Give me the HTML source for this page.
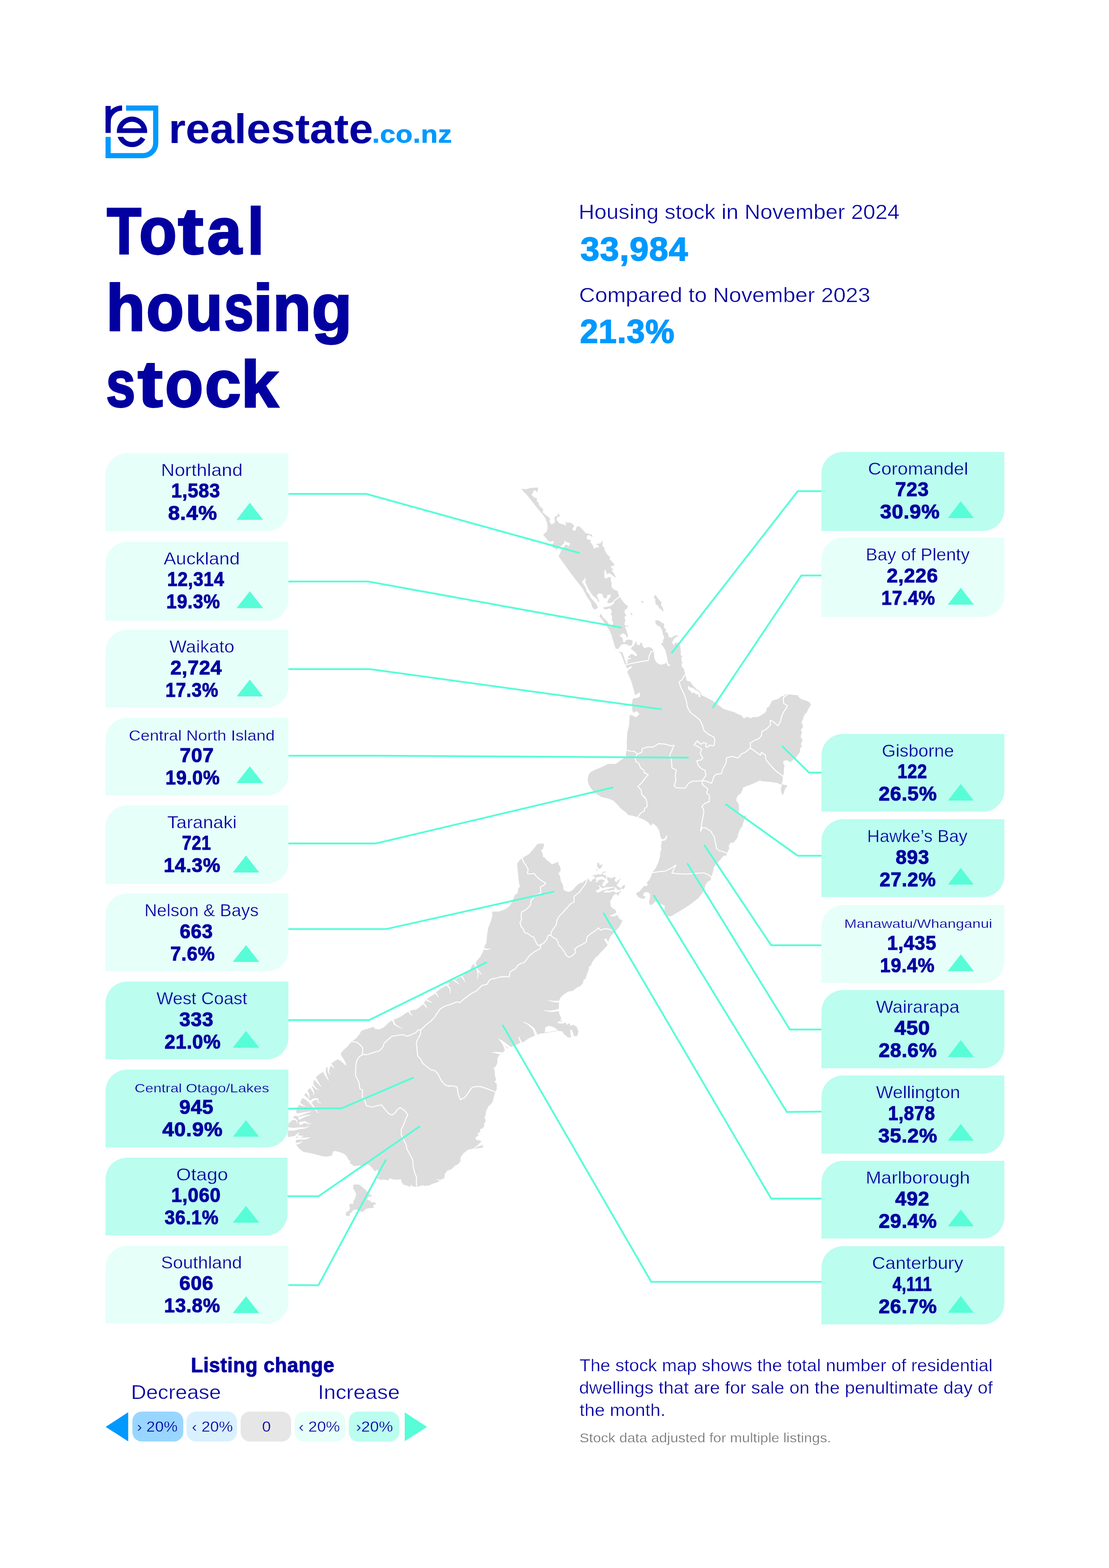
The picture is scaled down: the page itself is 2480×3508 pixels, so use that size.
<!DOCTYPE html>
<html lang="en"><head><meta charset="utf-8"><title>Total housing stock - realestate.co.nz</title>
<style>
html,body{margin:0;padding:0;background:#fff}
#page{position:relative;width:2480px;height:3508px;overflow:hidden;background:#fff;font-family:"Liberation Sans",sans-serif;color:#0300a0}
#page svg{position:absolute;left:0;top:0;overflow:visible}
#leaders circle{fill:#57fdd7;stroke:none}
h1,h2,h3,p,dl,dt,dd,small{margin:0;padding:0;font-size:inherit;font-weight:inherit}
.t{position:absolute;display:block;white-space:nowrap;line-height:1;transform-origin:0 0;margin:0}
.card{position:absolute;border-radius:48px 0 48px 0;background:#e6fff9}
.card.dk{background:#bbfdef}
.up{position:absolute;background:#57fdd7;clip-path:polygon(50% 0,100% 100%,0 100%)}
.pill{position:absolute;top:3158.2px;height:66.5px;border-radius:21px}
.arr{position:absolute;top:3159.5px;width:50.4px;height:65.3px}
.arr.l{left:236.3px;background:#0099ff;clip-path:polygon(100% 0,0 50%,100% 100%)}
.arr.r{left:904.6px;background:#57fdd7;clip-path:polygon(0 0,100% 50%,0 100%)}
</style></head>
<body><div id="page">
<svg id="map" width="2480" height="3508" viewBox="0 0 2480 3508" role="img" aria-label="Map of New Zealand">
<path id="nz" d="M1437.0,1344.1 L1434.0,1344.8 L1434.5,1348.0 L1437.0,1349.2 L1439.4,1347.3 Z M1466.6,1352.2 L1471.5,1354.7 L1473.9,1360.8 L1478.9,1363.3 L1481.3,1368.2 L1483.8,1367.0 L1482.6,1360.8 L1478.1,1353.4 L1479.6,1347.3 L1475.2,1343.6 L1470.3,1337.4 L1466.6,1331.2 L1463.4,1332.5 L1462.4,1338.6 L1465.8,1339.9 L1465.3,1346.0 Z M1409.9,1370.2 L1411.1,1375.6 L1414.1,1376.8 L1413.1,1371.9 Z M1213.9,1151.3 L1219.4,1159.2 L1223.8,1171.0 L1224.5,1180.9 L1222.6,1189.5 L1214.4,1196.2 L1221.3,1204.3 L1226.3,1210.5 L1234.9,1222.8 L1235.5,1223.7 L1245.5,1230.2 L1249.7,1224.0 L1255.8,1220.8 L1261.3,1215.4 L1263.2,1209.2 L1266.9,1212.9 L1275.1,1215.9 L1271.9,1222.3 L1268.2,1219.1 L1264.5,1218.4 L1260.8,1224.0 L1257.8,1227.7 L1253.9,1233.9 L1252.1,1238.8 L1249.0,1244.4 L1249.7,1245.5 L1278.0,1284.4 L1290.3,1300.4 L1302.7,1316.5 L1312.5,1334.9 L1321.1,1347.3 L1323.6,1355.9 L1326.1,1361.3 L1331.0,1363.8 L1337.2,1360.1 L1334.7,1353.4 L1327.3,1344.1 L1321.1,1337.4 L1317.0,1328.8 L1312.5,1323.9 L1310.1,1315.2 L1305.1,1307.8 L1301.4,1302.2 L1303.2,1298.0 L1307.6,1296.7 L1307.1,1293.0 L1304.6,1291.3 L1308.8,1293.0 L1310.1,1298.0 L1308.3,1301.7 L1312.5,1310.3 L1315.5,1317.7 L1319.9,1323.9 L1324.3,1331.2 L1334.7,1339.9 L1337.2,1345.5 L1340.9,1347.3 L1337.2,1338.6 L1334.7,1331.7 L1338.4,1327.5 L1345.8,1328.3 L1348.3,1331.7 L1349.5,1337.4 L1356.4,1338.6 L1358.1,1331.2 L1365.5,1330.0 L1365.5,1334.9 L1360.6,1341.1 L1357.4,1348.5 L1363.0,1349.7 L1372.2,1346.0 L1373.4,1349.7 L1364.8,1355.9 L1354.4,1357.9 L1349.5,1358.4 L1349.5,1362.3 L1356.9,1363.3 L1363.0,1360.8 L1367.2,1364.5 L1368.0,1369.4 L1366.2,1374.4 L1369.2,1379.3 L1368.0,1387.9 L1370.4,1390.4 L1371.7,1393.4 L1368.0,1401.5 L1365.5,1403.2 L1358.9,1391.6 L1355.2,1387.2 L1349.0,1382.3 L1343.6,1372.4 L1340.4,1378.6 L1349.0,1389.7 L1356.4,1400.7 L1363.8,1411.8 L1367.5,1421.7 L1365.9,1413.9 L1369.6,1428.7 L1374.2,1443.5 L1377.0,1451.8 L1381.0,1451.3 L1382.0,1452.9 L1386.2,1447.2 L1389.0,1442.6 L1395.5,1440.7 L1402.8,1441.7 L1407.5,1445.4 L1412.1,1443.5 L1414.3,1446.3 L1410.6,1450.9 L1415.8,1455.5 L1421.3,1460.1 L1425.0,1465.7 L1421.3,1468.5 L1415.8,1463.8 L1411.2,1462.9 L1407.5,1467.5 L1403.8,1469.4 L1404.7,1472.2 L1411.2,1471.6 L1408.8,1474.9 L1403.8,1475.3 L1403.2,1482.3 L1401.4,1486.0 L1399.1,1481.4 L1395.5,1469.4 L1391.8,1460.1 L1388.4,1458.3 L1384.4,1458.3 L1383.0,1456.7 L1383.1,1457.9 L1388.1,1461.6 L1393.0,1473.9 L1397.9,1487.5 L1402.8,1496.1 L1409.0,1491.2 L1413.4,1490.0 L1411.5,1494.9 L1405.3,1498.6 L1402.8,1503.5 L1411.5,1523.2 L1416.4,1540.5 L1420.1,1555.3 L1426.3,1551.6 L1430.7,1549.1 L1431.7,1557.7 L1425.0,1561.4 L1415.2,1562.7 L1413.2,1572.5 L1413.9,1589.8 L1416.4,1594.7 L1423.8,1591.0 L1430.0,1597.2 L1422.6,1604.6 L1418.9,1603.3 L1412.7,1599.6 L1407.8,1600.9 L1407.0,1621.8 L1402.8,1639.1 L1401.6,1658.8 L1402.1,1671.1 L1401.1,1678.5 L1399.1,1689.6 L1400.0,1693.0 L1386.9,1701.6 L1377.1,1709.0 L1359.8,1709.0 L1345.0,1716.4 L1330.3,1722.6 L1320.4,1727.5 L1315.5,1734.9 L1314.2,1746.0 L1316.7,1755.8 L1322.9,1765.7 L1332.7,1775.6 L1345.0,1782.9 L1359.8,1786.6 L1372.2,1791.6 L1380.8,1800.2 L1389.4,1810.1 L1400.0,1817.4 L1404.1,1823.1 L1413.9,1824.9 L1426.3,1828.1 L1438.6,1833.0 L1448.4,1839.1 L1456.3,1847.8 L1459.5,1842.1 L1464.5,1845.3 L1469.4,1850.2 L1474.3,1858.9 L1476.8,1871.2 L1479.2,1877.4 L1484.2,1877.4 L1487.9,1873.7 L1490.8,1868.2 L1492.3,1871.2 L1490.3,1877.4 L1485.4,1881.0 L1480.0,1881.0 L1478.0,1893.4 L1479.2,1902.0 L1477.3,1903.2 L1475.6,1918.0 L1471.9,1930.3 L1465.7,1942.7 L1458.3,1952.5 L1457.1,1957.4 L1452.1,1968.5 L1446.0,1974.7 L1448.4,1978.4 L1446.0,1983.3 L1441.0,1980.9 L1437.4,1985.8 L1430.0,1994.4 L1423.8,1996.9 L1422.6,2000.6 L1427.5,2006.7 L1434.9,2010.4 L1441.0,2010.4 L1443.5,2005.5 L1438.6,2004.3 L1438.1,2000.6 L1442.3,1995.7 L1449.7,1996.4 L1453.9,2000.6 L1453.4,2009.2 L1451.4,2016.6 L1452.1,2022.8 L1455.8,2025.2 L1460.8,2021.5 L1465.7,2016.6 L1473.1,2020.3 L1479.2,2022.8 L1486.6,2026.5 L1485.4,2037.5 L1487.9,2041.2 L1494.0,2049.9 L1500.2,2049.9 L1505.1,2047.4 L1515.0,2041.2 L1527.3,2033.9 L1537.2,2027.7 L1549.5,2019.1 L1561.8,2009.2 L1570.4,1998.1 L1575.4,1989.5 L1577.8,1979.6 L1582.8,1972.2 L1588.9,1969.8 L1590.2,1962.4 L1593.9,1952.5 L1596.3,1940.2 L1601.2,1934.0 L1611.1,1922.9 L1618.5,1914.3 L1624.7,1914.3 L1625.9,1908.2 L1630.8,1898.3 L1629.6,1892.1 L1634.5,1884.7 L1638.2,1886.0 L1641.9,1883.5 L1649.3,1873.7 L1651.0,1865.0 L1655.5,1853.9 L1660.4,1847.8 L1661.6,1841.6 L1665.3,1831.8 L1670.3,1824.4 L1657.9,1825.6 L1651.0,1819.4 L1653.0,1812.0 L1651.8,1798.5 L1646.8,1792.1 L1647.2,1784.7 L1650.9,1779.1 L1656.5,1775.4 L1660.1,1768.0 L1662.0,1761.6 L1674.9,1756.9 L1687.9,1751.4 L1699.9,1745.8 L1702.7,1747.7 L1724.8,1749.5 L1737.8,1751.4 L1743.3,1754.2 L1748.9,1755.1 L1747.9,1757.9 L1746.1,1764.3 L1747.0,1771.7 L1749.8,1778.7 L1752.6,1775.4 L1755.3,1765.2 L1760.3,1759.7 L1760.0,1756.9 L1747.9,1754.2 L1749.8,1747.7 L1750.7,1736.6 L1752.6,1731.1 L1752.9,1721.8 L1754.4,1712.6 L1751.6,1707.9 L1751.6,1703.3 L1756.3,1701.1 L1761.8,1701.5 L1766.4,1705.5 L1772.9,1700.6 L1780.3,1694.1 L1788.6,1683.0 L1789.5,1673.8 L1793.6,1670.1 L1791.8,1668.2 L1791.4,1662.7 L1794.7,1656.7 L1790.5,1647.9 L1793.2,1638.6 L1791.0,1632.2 L1795.5,1627.5 L1795.1,1622.0 L1792.3,1615.5 L1796.0,1609.1 L1796.9,1603.5 L1800.6,1597.0 L1804.3,1594.3 L1806.2,1588.7 L1809.9,1582.3 L1813.6,1576.7 L1810.8,1572.1 L1806.2,1568.8 L1798.8,1566.5 L1789.5,1562.8 L1784.9,1558.2 L1784.9,1555.5 L1772.9,1554.5 L1761.8,1553.2 L1756.3,1552.7 L1755.3,1555.5 L1750.7,1557.3 L1745.2,1559.1 L1742.4,1562.8 L1735.9,1564.7 L1726.7,1567.5 L1723.0,1573.9 L1720.2,1580.4 L1714.7,1584.1 L1713.8,1590.6 L1710.1,1595.2 L1702.7,1599.8 L1695.3,1603.9 L1682.3,1604.4 L1678.6,1608.1 L1676.8,1605.4 L1667.5,1603.5 L1666.6,1607.2 L1662.0,1606.3 L1658.3,1600.7 L1650.9,1598.0 L1641.7,1593.3 L1628.7,1589.6 L1617.6,1586.0 L1604.7,1575.8 L1595.5,1569.3 L1586.2,1563.8 L1569.2,1555.3 L1564.6,1547.0 L1556.3,1540.6 L1549.8,1534.1 L1543.3,1524.8 L1535.9,1523.0 L1534.1,1515.6 L1532.2,1508.2 L1529.5,1497.1 L1524.8,1491.6 L1523.9,1484.5 L1527.1,1482.3 L1524.8,1480.5 L1523.4,1473.1 L1525.8,1467.5 L1522.1,1465.7 L1522.6,1458.3 L1521.5,1447.2 L1518.4,1438.9 L1510.1,1438.0 L1507.3,1443.5 L1502.7,1438.0 L1506.4,1430.6 L1511.0,1425.4 L1517.4,1423.5 L1514.7,1421.3 L1508.2,1422.3 L1500.8,1426.9 L1495.3,1425.0 L1493.4,1415.8 L1487.9,1413.9 L1489.7,1408.4 L1484.5,1403.2 L1485.5,1395.8 L1480.5,1393.6 L1473.1,1388.1 L1465.7,1387.7 L1465.7,1393.6 L1469.4,1399.1 L1476.8,1402.8 L1480.5,1410.2 L1482.3,1418.6 L1485.7,1426.5 L1482.3,1433.3 L1482.7,1438.0 L1477.7,1439.8 L1482.3,1445.4 L1487.9,1454.6 L1491.6,1469.4 L1494.3,1484.2 L1499.0,1487.9 L1497.1,1490.6 L1493.4,1489.7 L1490.6,1482.7 L1487.9,1484.2 L1480.5,1487.0 L1473.1,1486.0 L1466.6,1480.5 L1462.9,1471.2 L1462.4,1456.5 L1458.3,1450.9 L1452.8,1447.6 L1447.2,1448.3 L1440.9,1450.0 L1437.2,1445.4 L1436.1,1438.9 L1431.7,1438.0 L1430.6,1443.5 L1424.3,1442.6 L1423.5,1434.3 L1420.4,1438.3 L1416.2,1447.2 L1413.0,1443.5 L1414.9,1436.5 L1413.9,1432.4 L1405.1,1430.6 L1399.5,1432.4 L1397.7,1437.6 L1393.6,1436.1 L1392.1,1427.2 L1386.6,1423.5 L1387.1,1419.9 L1393.6,1416.7 L1399.1,1419.9 L1401.9,1426.9 L1404.7,1423.2 L1403.7,1420.0 L1401.2,1411.3 L1397.5,1401.7 L1403.7,1401.7 L1407.4,1400.3 L1401.2,1400.3 L1396.3,1397.8 L1398.3,1387.9 L1396.3,1380.5 L1400.0,1376.8 L1396.3,1369.4 L1398.3,1363.3 L1402.5,1362.1 L1404.2,1355.9 L1397.5,1351.0 L1391.4,1343.6 L1385.7,1334.9 L1382.8,1328.8 L1381.5,1322.6 L1372.9,1318.9 L1367.2,1312.8 L1368.0,1303.6 L1366.2,1300.4 L1366.0,1291.3 L1359.3,1291.3 L1356.4,1294.8 L1352.0,1293.0 L1351.2,1282.0 L1352.4,1273.8 L1355.7,1279.0 L1357.4,1284.4 L1363.0,1282.4 L1370.4,1287.4 L1377.8,1293.8 L1374.1,1284.4 L1367.2,1276.0 L1372.9,1274.6 L1368.0,1271.6 L1365.5,1266.4 L1372.9,1265.9 L1373.6,1261.7 L1363.0,1250.4 L1364.3,1246.2 L1356.9,1239.6 L1350.7,1228.2 L1353.9,1229.0 L1347.0,1220.8 L1348.3,1209.2 L1342.1,1215.9 L1331.3,1217.1 L1337.7,1219.8 L1339.6,1224.8 L1333.7,1224.8 L1328.5,1228.2 L1325.3,1219.1 L1319.9,1212.5 L1321.9,1207.5 L1315.5,1208.0 L1311.8,1204.3 L1313.3,1198.2 L1317.4,1196.9 L1325.3,1201.9 L1323.6,1196.2 L1309.1,1192.2 L1301.7,1183.4 L1294.3,1176.7 L1289.4,1178.9 L1286.9,1186.8 L1282.9,1187.8 L1279.5,1182.9 L1284.2,1177.5 L1281.0,1172.5 L1274.6,1169.1 L1268.7,1169.8 L1263.2,1166.6 L1265.7,1171.0 L1265.2,1176.5 L1261.3,1173.5 L1251.4,1171.0 L1245.2,1164.1 L1245.2,1158.0 L1252.6,1154.3 L1247.7,1147.9 L1246.5,1154.3 L1239.8,1156.3 L1241.0,1169.1 L1233.7,1173.5 L1228.7,1168.1 L1230.0,1160.0 L1214.4,1146.9 L1213.4,1140.2 L1218.4,1143.2 L1205.3,1130.4 L1204.1,1124.2 L1200.4,1121.8 L1200.4,1114.4 L1195.5,1113.4 L1188.3,1107.0 L1191.8,1103.3 L1192.5,1098.3 L1197.2,1097.1 L1201.6,1102.0 L1203.6,1090.7 L1186.8,1091.4 L1177.0,1094.6 L1165.9,1093.4 L1171.5,1100.8 L1177.0,1105.7 L1205.3,1141.5 Z M1231.7,1211.7 L1238.1,1210.0 L1238.6,1214.2 L1234.9,1217.9 L1231.2,1217.4 L1226.3,1210.5 Z M1539.3,1543.0 L1538.2,1536.3 L1540.6,1535.1 L1543.3,1537.8 L1547.0,1538.7 L1550.7,1539.6 L1554.4,1543.3 L1559.0,1545.2 L1562.7,1547.9 L1565.9,1552.6 L1567.0,1559.0 L1562.2,1559.6 L1560.9,1552.6 L1556.3,1554.0 L1552.6,1548.9 L1547.4,1551.1 L1543.7,1545.5 Z M1345.0,1941.6 L1346.3,1936.7 L1348.1,1931.8 L1343.8,1935.5 L1340.1,1934.8 L1339.5,1929.3 L1335.2,1931.8 L1335.2,1936.7 L1336.4,1940.4 L1340.1,1944.1 Z M1332.7,1945.3 L1333.7,1948.4 L1335.8,1947.2 L1335.2,1944.7 Z M780.2,2337.0 L777.7,2340.7 L767.9,2349.3 L761.7,2357.9 L765.4,2365.3 L770.3,2372.7 L774.0,2380.1 L772.8,2383.8 L765.4,2376.4 L758.0,2370.2 L754.3,2370.2 L748.2,2373.9 L740.8,2378.9 L735.8,2385.0 L728.4,2390.0 L723.5,2397.4 L713.7,2403.5 L705.0,2410.9 L698.9,2418.3 L698.9,2428.2 L689.0,2438.0 L681.6,2447.9 L675.5,2457.7 L669.3,2470.1 L663.1,2482.4 L660.7,2494.7 L652.0,2504.6 L645.9,2509.5 L644.6,2521.8 L643.4,2536.6 L644.6,2547.7 L654.5,2545.2 L661.9,2548.9 L660.7,2558.8 L669.3,2569.9 L679.1,2577.3 L693.9,2579.7 L708.7,2583.4 L720.0,2586.5 L729.9,2587.8 L742.2,2585.3 L744.6,2576.7 L749.6,2574.7 L764.4,2579.1 L773.0,2584.1 L779.1,2593.9 L784.1,2598.9 L781.6,2601.3 L791.5,2608.7 L805.0,2607.5 L813.7,2608.7 L821.0,2605.0 L826.0,2606.3 L830.9,2611.2 L838.3,2621.0 L842.0,2617.4 L845.7,2618.6 L844.5,2626.0 L848.2,2632.1 L838.3,2632.1 L845.7,2637.1 L853.1,2640.8 L855.6,2638.3 L867.9,2640.8 L871.6,2635.8 L877.7,2638.3 L887.6,2639.5 L896.2,2638.3 L898.7,2645.7 L902.4,2650.6 L911.0,2653.1 L917.2,2655.6 L918.4,2650.6 L923.3,2654.3 L929.5,2655.1 L934.4,2655.1 L943.0,2651.9 L951.7,2653.1 L960.3,2651.9 L967.7,2648.2 L976.3,2645.7 L983.7,2642.0 L973.9,2638.3 L984.9,2639.5 L993.6,2635.8 L994.8,2626.0 L1000.0,2619.2 L1009.9,2615.5 L1017.3,2608.1 L1024.6,2604.4 L1029.6,2598.2 L1030.1,2588.4 L1037.0,2579.7 L1046.8,2572.3 L1057.9,2569.9 L1072.7,2568.6 L1080.1,2567.4 L1080.1,2557.5 L1073.9,2551.4 L1065.3,2550.2 L1062.8,2545.2 L1070.2,2540.3 L1067.8,2535.4 L1073.9,2532.9 L1073.9,2525.5 L1077.6,2525.5 L1082.6,2520.6 L1082.6,2514.4 L1086.8,2505.8 L1083.3,2502.1 L1085.0,2497.2 L1087.5,2484.8 L1092.4,2475.0 L1101.0,2466.4 L1103.5,2457.7 L1106.5,2445.4 L1110.9,2436.8 L1110.9,2424.5 L1106.0,2420.8 L1109.7,2415.8 L1107.2,2408.4 L1106.0,2393.7 L1103.0,2390.0 L1108.4,2386.3 L1112.1,2378.9 L1112.1,2369.0 L1115.8,2361.6 L1123.2,2355.5 L1130.6,2348.1 L1139.2,2344.4 L1152.8,2338.2 L1160.2,2334.5 L1166.4,2333.3 L1169.0,2332.2 L1183.8,2322.3 L1198.6,2316.1 L1208.4,2312.4 L1224.5,2310.5 L1247.9,2306.3 L1257.7,2307.5 L1260.2,2312.4 L1270.1,2321.1 L1277.4,2321.1 L1276.2,2314.9 L1275.0,2303.8 L1278.7,2303.8 L1281.1,2310.0 L1283.6,2318.6 L1291.0,2317.4 L1293.5,2307.5 L1289.8,2297.6 L1282.4,2292.7 L1276.2,2295.2 L1272.5,2289.0 L1267.6,2292.7 L1265.1,2287.8 L1257.7,2290.3 L1246.6,2289.0 L1247.9,2285.3 L1257.7,2285.3 L1252.8,2281.6 L1255.3,2277.9 L1251.6,2270.5 L1249.1,2260.7 L1249.8,2255.7 L1250.3,2238.5 L1254.0,2231.1 L1260.2,2224.9 L1270.1,2218.8 L1282.4,2216.3 L1288.5,2210.2 L1297.2,2206.5 L1304.1,2199.1 L1304.6,2192.9 L1309.5,2189.2 L1312.0,2181.8 L1316.9,2168.3 L1315.7,2164.6 L1321.8,2159.6 L1324.3,2152.2 L1331.7,2142.4 L1337.8,2137.4 L1344.0,2130.1 L1351.4,2122.7 L1358.8,2114.0 L1356.3,2110.3 L1351.4,2102.9 L1352.6,2099.2 L1356.3,2100.5 L1360.0,2107.9 L1361.2,2104.2 L1364.9,2095.6 L1371.1,2088.2 L1382.0,2077.2 L1384.5,2073.5 L1388.2,2068.5 L1390.6,2062.4 L1392.1,2058.7 L1388.2,2057.4 L1384.5,2055.0 L1382.0,2050.1 L1380.1,2045.1 L1376.5,2047.0 L1370.9,2049.4 L1364.7,2050.1 L1364.7,2047.6 L1370.9,2045.7 L1376.5,2042.7 L1378.3,2040.2 L1376.5,2036.5 L1374.0,2033.4 L1371.5,2034.0 L1369.7,2031.0 L1366.2,2029.1 L1365.7,2025.4 L1364.5,2019.2 L1364.7,2015.6 L1367.2,2012.5 L1369.7,2006.9 L1372.1,2003.2 L1375.8,2000.1 L1378.9,2000.1 L1380.8,2003.2 L1383.2,2003.2 L1384.5,1998.9 L1389.4,1994.0 L1385.7,1990.9 L1389.4,1988.4 L1395.6,1988.4 L1397.4,1983.5 L1397.4,1979.2 L1393.1,1981.0 L1388.2,1987.2 L1384.5,1984.7 L1380.1,1982.3 L1378.9,1978.6 L1381.4,1977.4 L1384.5,1971.8 L1388.2,1965.0 L1383.2,1968.7 L1378.3,1973.7 L1376.5,1972.4 L1374.0,1968.7 L1375.8,1966.3 L1376.5,1963.8 L1374.6,1960.7 L1370.9,1963.8 L1367.2,1964.4 L1362.3,1963.8 L1358.6,1961.3 L1357.4,1965.0 L1354.3,1963.8 L1356.1,1960.7 L1354.9,1958.9 L1351.2,1957.0 L1346.3,1957.0 L1348.7,1953.9 L1351.8,1951.5 L1356.1,1951.5 L1355.5,1950.2 L1351.8,1949.6 L1348.1,1951.2 L1346.3,1953.9 L1343.8,1957.0 L1338.9,1956.4 L1337.9,1952.7 L1337.0,1956.4 L1331.5,1957.0 L1325.3,1958.9 L1324.1,1960.7 L1327.8,1960.1 L1330.9,1962.6 L1329.0,1966.3 L1324.1,1968.1 L1322.8,1971.8 L1319.1,1972.4 L1317.9,1968.7 L1314.2,1965.0 L1309.3,1969.0 L1303.1,1973.9 L1295.7,1976.4 L1287.1,1983.8 L1281.0,1991.2 L1272.3,1995.4 L1264.9,1993.7 L1260.0,1990.0 L1258.8,1980.1 L1253.9,1970.3 L1252.6,1960.4 L1248.9,1954.2 L1253.9,1948.1 L1252.6,1938.2 L1248.9,1934.5 L1247.7,1927.1 L1242.8,1930.8 L1234.1,1933.3 L1221.8,1923.4 L1218.1,1918.5 L1214.4,1917.3 L1213.9,1909.9 L1209.5,1902.5 L1214.4,1898.8 L1216.9,1887.7 L1214.4,1887.2 L1202.1,1887.7 L1194.7,1897.5 L1182.4,1911.1 L1170.1,1918.5 L1162.7,1923.4 L1156.5,1932.1 L1157.7,1948.1 L1159.0,1960.4 L1160.2,1972.7 L1162.7,1983.8 L1159.0,1987.5 L1157.7,1997.4 L1152.8,2002.3 L1151.9,2000.0 L1146.9,2014.8 L1139.5,2027.1 L1129.7,2034.5 L1114.9,2039.4 L1100.1,2039.4 L1101.3,2046.8 L1097.6,2061.6 L1091.5,2076.4 L1089.0,2093.7 L1087.8,2108.4 L1082.9,2118.3 L1080.4,2128.2 L1074.2,2140.5 L1065.6,2150.3 L1061.9,2157.7 L1057.0,2157.7 L1050.8,2170.1 L1036.0,2182.4 L1021.2,2189.8 L1006.5,2194.7 L994.1,2204.6 L989.2,2209.5 L981.8,2214.4 L976.9,2218.1 L969.5,2225.5 L957.2,2232.9 L952.2,2237.8 L947.3,2245.2 L937.4,2253.9 L930.1,2258.8 L920.2,2260.0 L912.8,2263.7 L907.9,2266.2 L898.0,2273.6 L888.2,2278.5 L879.5,2281.0 L868.4,2288.4 L858.6,2298.2 L848.7,2303.1 L838.9,2301.9 L835.2,2297.0 L829.0,2299.4 L816.7,2303.1 L807.8,2306.5 L804.8,2312.3 L797.4,2322.2 L787.6,2329.6 Z M1358.6,1968.7 L1361.0,1973.7 L1357.4,1976.1 L1354.9,1978.6 L1353.7,1982.3 L1347.5,1982.9 L1346.9,1978.6 L1348.7,1974.9 L1352.4,1971.8 L1351.2,1968.7 L1346.3,1967.5 L1341.3,1968.1 L1338.9,1968.7 L1334.6,1974.3 L1331.5,1972.4 L1333.9,1970.0 L1332.1,1967.5 L1332.7,1963.8 L1336.4,1961.9 L1341.3,1961.9 L1345.0,1960.7 L1348.7,1961.3 L1351.8,1963.8 L1353.7,1966.3 L1357.4,1965.0 Z M1341.3,1995.2 L1336.4,1997.7 L1332.1,1992.1 L1336.4,1990.9 L1340.7,1988.4 L1341.3,1984.7 L1337.6,1982.3 L1340.1,1980.4 L1341.9,1982.3 L1343.8,1984.7 L1346.3,1987.2 L1351.2,1986.0 L1356.1,1984.7 L1361.0,1984.7 L1367.2,1984.1 L1373.4,1983.5 L1372.8,1984.7 L1367.2,1987.2 L1361.0,1988.4 L1356.1,1990.3 L1351.2,1990.9 L1346.3,1992.8 Z M1357.4,1996.5 L1351.2,1997.1 L1350.6,1994.0 L1356.1,1992.1 L1361.0,1992.8 L1366.0,1992.1 L1370.9,1990.9 L1375.2,1989.7 L1373.4,1986.0 L1375.8,1984.7 L1378.3,1987.2 L1381.4,1990.9 L1385.7,1991.5 L1388.2,1994.6 L1382.0,1995.8 L1378.9,1997.7 L1375.8,1996.5 L1372.1,1994.0 L1367.2,1995.2 L1362.3,1997.1 Z M1247.9,2305.0 L1233.1,2308.0 L1218.3,2310.0 L1219.5,2298.9 L1225.7,2295.2 L1234.3,2296.4 L1241.7,2300.1 Z M793.9,2681.4 L790.2,2687.6 L790.2,2693.8 L784.6,2692.5 L780.4,2696.2 L782.8,2702.4 L780.4,2708.5 L773.7,2712.2 L773.0,2718.4 L777.9,2720.9 L783.6,2718.4 L781.6,2714.7 L786.5,2712.2 L790.2,2707.3 L796.4,2706.1 L805.0,2709.8 L810.0,2711.7 L818.6,2704.8 L828.4,2702.4 L835.8,2702.4 L834.6,2696.2 L841.3,2693.8 L838.3,2690.1 L829.7,2690.1 L828.4,2686.4 L821.0,2683.9 L823.5,2677.7 L828.4,2677.7 L832.1,2675.3 L826.0,2671.6 L818.6,2662.9 L808.7,2654.3 L801.3,2649.4 L790.2,2650.6 L789.5,2658.0 L793.9,2665.4 L796.4,2671.6 Z" fill="#dcdcdc" fill-rule="evenodd"/>
<path id="nz-water" d="M735.0,2379.7 L736.5,2381.0 L742.3,2386.1 L747.7,2390.0 L748.4,2389.4 L744.4,2384.1 L740.4,2377.7 L739.3,2375.9 Z M733.6,2381.6 L733.4,2383.6 L732.5,2391.7 L733.6,2399.7 L738.7,2404.9 L739.4,2404.3 L735.9,2398.9 L736.5,2392.1 L739.0,2384.9 L739.7,2383.0 Z M721.2,2389.6 L721.6,2391.6 L723.3,2399.9 L726.8,2406.3 L731.4,2413.4 L735.1,2417.8 L735.9,2417.3 L733.2,2412.3 L730.3,2404.6 L728.5,2398.7 L728.7,2391.0 L728.7,2388.9 Z M698.4,2410.6 L699.8,2412.1 L707.1,2420.3 L714.3,2428.3 L718.7,2431.2 L719.3,2430.5 L715.8,2427.0 L710.6,2417.8 L705.2,2408.2 L704.2,2406.4 Z M695.6,2412.8 L695.7,2414.8 L695.9,2424.2 L698.9,2430.0 L705.7,2435.9 L712.6,2439.4 L713.0,2438.6 L707.1,2434.1 L702.1,2427.7 L700.9,2423.7 L702.3,2415.3 L702.7,2413.3 Z M690.0,2431.3 L691.3,2432.8 L697.3,2439.7 L701.8,2447.5 L700.1,2449.8 L700.8,2450.3 L703.6,2447.2 L700.7,2437.8 L696.4,2429.4 L695.5,2427.6 Z M681.2,2442.5 L682.5,2444.0 L688.8,2450.5 L691.9,2457.6 L692.8,2457.3 L691.9,2449.1 L687.9,2440.4 L687.0,2438.5 Z M672.8,2454.0 L674.5,2455.0 L682.3,2459.6 L689.8,2465.7 L697.7,2474.3 L704.2,2481.3 L708.6,2488.4 L711.3,2489.9 L711.8,2489.1 L709.6,2487.6 L706.1,2480.0 L700.3,2472.1 L693.4,2462.3 L686.1,2454.8 L678.6,2449.0 L677.0,2447.8 Z M694.4,2468.9 L695.9,2467.5 L701.3,2462.4 L707.2,2460.3 L710.0,2459.9 L709.0,2463.9 L714.8,2468.4 L719.1,2466.9 L718.8,2466.0 L715.3,2467.0 L711.2,2462.9 L712.6,2458.2 L706.8,2456.6 L699.1,2458.2 L692.2,2462.9 L690.6,2464.1 Z M663.5,2468.5 L665.3,2469.4 L676.2,2474.5 L683.1,2474.9 L683.3,2474.0 L677.4,2472.0 L668.6,2464.3 L667.1,2463.0 Z M658.1,2496.1 L660.1,2496.4 L667.4,2497.4 L679.8,2492.4 L689.4,2489.1 L695.6,2487.2 L695.5,2486.3 L688.9,2487.0 L678.8,2488.5 L666.6,2491.0 L662.0,2489.0 L660.1,2488.4 Z M668.5,2505.6 L670.3,2504.7 L679.9,2499.8 L688.1,2496.5 L694.4,2495.2 L694.3,2494.3 L687.7,2494.3 L678.6,2496.0 L668.1,2498.9 L666.1,2499.5 Z M645.6,2513.2 L647.1,2511.9 L651.9,2507.1 L659.2,2505.1 L662.9,2508.2 L664.8,2514.2 L665.7,2514.0 L664.9,2507.2 L660.0,2501.8 L650.0,2502.2 L643.0,2506.6 L641.3,2507.6 Z M670.8,2517.4 L672.7,2516.6 L681.7,2512.3 L688.9,2515.1 L696.1,2514.1 L696.0,2513.2 L689.4,2512.7 L681.8,2508.1 L670.6,2510.2 L668.7,2510.6 Z M642.2,2529.4 L644.2,2529.4 L656.1,2529.5 L670.9,2526.0 L683.3,2524.6 L692.1,2519.2 L691.7,2518.4 L682.7,2522.4 L670.4,2522.0 L655.7,2523.4 L644.8,2521.8 L642.8,2521.5 Z M658.3,2551.2 L659.3,2549.5 L664.5,2541.0 L670.0,2534.6 L669.4,2533.9 L662.0,2538.6 L654.4,2545.3 L652.9,2546.7 Z M665.0,2545.1 L667.0,2544.8 L676.9,2543.1 L679.0,2541.4 L678.6,2540.6 L676.7,2541.4 L667.0,2539.7 L665.0,2539.4 Z M645.2,2552.0 L647.1,2551.8 L667.1,2549.8 L681.9,2547.7 L693.2,2545.4 L693.0,2544.5 L681.6,2545.4 L666.8,2545.8 L646.9,2545.5 L644.9,2545.4 Z M644.7,2549.6 L646.6,2548.9 L660.1,2544.0 L668.4,2534.5 L667.7,2533.8 L658.7,2541.5 L645.2,2544.0 L643.2,2544.4 Z M666.9,2548.7 L668.9,2548.8 L681.7,2549.8 L692.8,2545.7 L692.6,2544.8 L681.5,2547.0 L669.7,2544.1 L667.7,2543.6 Z M660.3,2561.6 L662.2,2561.1 L671.0,2558.8 L676.5,2553.0 L675.9,2552.3 L670.0,2556.3 L661.6,2556.5 L659.6,2556.5 Z M1079.2,2124.1 L1081.2,2124.4 L1090.2,2125.6 L1097.7,2123.2 L1097.5,2122.3 L1090.3,2123.3 L1082.1,2120.6 L1080.2,2120.0 Z M1059.9,2156.7 L1060.8,2158.5 L1065.4,2168.0 L1068.3,2179.9 L1066.4,2190.9 L1067.3,2191.1 L1070.3,2179.9 L1068.3,2167.1 L1064.5,2156.9 L1063.8,2155.1 Z M1029.5,2183.1 L1030.7,2184.7 L1036.3,2191.5 L1039.3,2197.3 L1040.1,2197.0 L1038.2,2190.5 L1033.9,2182.5 L1033.0,2180.8 Z M1012.2,2193.2 L1013.9,2194.3 L1021.8,2199.2 L1027.1,2202.9 L1027.7,2202.2 L1023.1,2197.6 L1016.3,2191.2 L1014.8,2189.8 Z M996.2,2202.3 L997.5,2203.8 L1005.3,2212.4 L1006.7,2223.1 L1007.6,2223.0 L1007.6,2211.5 L1000.6,2201.4 L999.5,2199.7 Z M969.5,2219.6 L970.9,2221.0 L976.0,2226.2 L980.2,2231.2 L981.0,2230.7 L977.8,2224.8 L974.0,2218.7 L972.9,2217.0 Z M950.7,2237.4 L952.5,2238.3 L960.4,2242.0 L966.9,2243.2 L967.1,2242.3 L961.3,2240.1 L954.5,2234.9 L952.8,2233.7 Z M944.9,2246.5 L946.5,2247.8 L951.8,2252.0 L954.3,2257.0 L955.1,2256.7 L953.6,2250.8 L949.1,2245.1 L947.9,2243.5 Z M912.0,2261.6 L913.1,2263.3 L916.8,2269.3 L922.4,2272.7 L922.9,2272.0 L918.6,2267.9 L916.5,2261.7 L915.8,2259.8 Z M876.1,2281.1 L876.9,2282.9 L881.6,2293.0 L890.2,2297.8 L899.1,2301.1 L899.4,2300.3 L891.1,2296.1 L883.9,2291.1 L880.7,2281.4 L880.0,2279.5 Z M756.9,2370.7 L758.7,2371.6 L766.3,2375.7 L773.2,2384.2 L773.9,2383.7 L768.5,2373.6 L761.3,2367.7 L759.8,2366.5 Z M1143.0,2342.9 L1141.4,2341.7 L1128.2,2331.5 L1115.1,2324.5 L1114.7,2325.2 L1126.3,2334.0 L1137.7,2345.9 L1139.0,2347.4 Z M1118.5,2354.9 L1116.5,2354.7 L1107.6,2353.8 L1100.1,2354.4 L1100.1,2355.3 L1107.4,2356.0 L1115.7,2358.5 L1117.7,2359.1 Z M1251.2,2238.9 L1249.2,2239.0 L1238.1,2239.2 L1226.3,2238.1 L1226.1,2238.9 L1237.9,2241.7 L1249.0,2243.0 L1251.0,2243.2 Z M1250.1,2257.1 L1248.2,2257.5 L1233.1,2261.1 L1215.4,2260.2 L1215.3,2261.1 L1233.1,2264.2 L1249.0,2262.3 L1251.0,2262.1 Z M1202.1,2315.7 L1201.2,2313.8 L1195.4,2301.3 L1182.0,2290.5 L1168.7,2285.4 L1168.3,2286.2 L1180.7,2292.5 L1191.9,2303.8 L1195.9,2316.0 L1196.6,2317.9 Z M1168.1,2333.0 L1167.0,2331.3 L1162.5,2324.3 L1160.1,2319.7 L1159.2,2320.0 L1160.7,2325.2 L1163.6,2333.0 L1164.3,2334.9 Z M1135.1,2347.8 L1134.0,2346.1 L1125.9,2333.7 L1116.4,2324.9 L1115.7,2325.6 L1123.4,2335.5 L1129.1,2348.8 L1129.9,2350.6 Z M1381.8,2042.2 L1380.1,2043.3 L1373.3,2047.6 L1365.7,2048.8 L1365.7,2049.7 L1373.9,2049.9 L1381.8,2046.8 L1383.7,2046.0 Z M1080.1,2555.6 L1078.3,2556.6 L1068.4,2562.5 L1058.9,2568.7 L1059.4,2569.5 L1069.6,2565.0 L1080.4,2560.9 L1082.3,2560.2 Z M1123.1,2354.4 L1121.1,2354.2 L1111.0,2353.5 L1100.6,2354.3 L1100.6,2355.2 L1110.8,2355.9 L1120.5,2358.1 L1122.4,2358.6 Z M1141.5,2342.2 L1139.9,2341.0 L1129.3,2333.2 L1124.0,2328.6 L1115.6,2324.3 L1115.1,2325.0 L1122.5,2330.5 L1127.0,2335.8 L1136.2,2345.2 L1137.6,2346.7 Z M1168.3,2334.3 L1167.4,2332.6 L1163.1,2324.3 L1160.6,2319.1 L1159.8,2319.4 L1161.2,2325.0 L1163.8,2334.0 L1164.4,2335.9 Z M1076.3,2554.1 L1074.8,2555.5 L1066.8,2563.4 L1058.7,2568.9 L1059.1,2569.7 L1068.2,2565.3 L1077.4,2558.5 L1079.0,2557.3 Z" fill="#fff"/>
<path id="nz-borders" d="M1061.9,2162.7 L1069.3,2171.3 L1075.5,2178.7 M990.4,2208.3 L997.8,2203.3 L1004.0,2200.9 M1399.1,1487.5 L1413.9,1483.8 L1433.7,1480.1 L1449.7,1477.6 L1452.1,1466.5 L1455.8,1457.9 L1462.0,1457.2 M1531.7,1509.7 L1524.8,1520.8 L1518.7,1525.7 L1522.4,1538.0 L1529.8,1552.8 L1534.7,1567.6 L1537.2,1582.4 L1544.6,1594.7 L1554.4,1602.1 L1564.3,1609.5 L1570.4,1621.8 L1574.1,1634.1 L1584.0,1642.8 L1596.3,1648.9 L1598.8,1656.3 L1596.3,1668.6 L1586.5,1667.4 L1581.5,1672.3 L1577.8,1669.9 L1580.3,1663.7 L1574.1,1661.2 L1566.7,1664.9 L1559.3,1657.5 L1552.0,1666.2 L1561.8,1671.1 L1569.2,1676.0 L1565.5,1685.9 L1571.7,1695.7 L1566.7,1700.7 L1558.1,1701.9 L1561.8,1713.0 L1569.2,1720.4 L1576.6,1722.9 L1578.6,1735.2 L1570.4,1746.3 L1570.4,1754.9 L1576.6,1759.8 L1582.8,1764.8 L1580.3,1774.6 L1586.5,1779.5 M1400.4,1678.0 L1409.0,1680.5 L1418.9,1681.0 L1425.0,1687.1 L1434.9,1683.4 L1436.1,1674.8 L1448.4,1671.1 L1460.8,1671.1 L1473.1,1663.7 L1487.9,1664.9 L1500.2,1668.6 L1507.6,1667.4 L1502.7,1678.5 L1497.7,1689.6 L1501.4,1699.4 L1502.7,1717.9 L1512.5,1722.9 L1510.1,1735.2 L1511.3,1747.5 L1507.6,1757.4 L1512.5,1762.3 L1532.2,1763.5 L1539.6,1752.4 L1549.5,1747.5 L1561.8,1747.5 L1570.4,1746.3 M1425.0,1687.1 L1420.1,1695.7 L1422.6,1704.4 L1428.7,1708.1 L1432.4,1717.9 L1439.8,1722.9 L1441.0,1729.0 L1449.7,1732.7 L1443.5,1740.1 L1436.1,1750.0 L1426.3,1759.8 L1433.7,1767.2 L1434.9,1777.1 L1443.5,1786.9 M1570.4,1746.3 L1579.1,1747.5 L1591.4,1752.4 L1593.9,1745.0 L1596.3,1737.6 L1601.2,1732.7 L1613.6,1730.3 L1616.0,1720.4 L1623.4,1708.1 L1624.7,1695.7 L1635.7,1692.1 L1650.5,1695.7 L1657.9,1687.1 L1667.8,1682.2 L1677.6,1673.6 M1761.8,1553.6 L1755.3,1558.2 L1751.6,1561.0 L1752.6,1573.9 L1760.9,1578.6 L1758.1,1584.1 L1752.6,1592.4 L1748.9,1599.8 L1745.2,1614.6 L1739.6,1623.8 L1730.4,1615.5 L1722.1,1610.9 L1723.0,1622.0 L1713.8,1631.2 L1703.6,1636.8 L1702.7,1646.0 L1697.1,1652.5 L1686.0,1657.1 L1677.7,1662.7 L1678.6,1673.8 M1678.6,1673.8 L1700.8,1689.5 L1702.7,1683.0 L1711.9,1689.5 L1712.8,1699.6 L1724.8,1714.4 L1735.9,1725.5 L1745.2,1732.0 L1750.7,1736.6 M1438.6,1780.0 L1444.7,1787.4 L1446.5,1794.8 L1447.2,1804.6 L1441.5,1808.3 L1440.6,1814.5 L1432.4,1819.4 L1426.3,1828.1 M1586.5,1780.0 L1586.0,1793.6 L1576.6,1797.3 L1569.2,1804.6 L1572.2,1808.3 L1574.1,1817.0 L1571.7,1829.3 L1569.2,1841.6 L1568.0,1851.5 L1566.7,1860.1 L1570.4,1851.5 L1579.1,1852.7 L1588.9,1858.9 L1592.6,1865.0 L1597.5,1872.4 L1598.8,1881.0 L1601.2,1890.9 L1602.5,1898.3 L1608.6,1903.2 L1618.5,1905.7 L1625.9,1909.4 M1458.3,1952.5 L1473.1,1950.1 L1487.9,1948.8 L1500.2,1942.7 L1511.3,1935.3 L1506.4,1945.1 L1502.7,1953.3 L1517.4,1955.0 L1537.2,1955.5 L1556.9,1953.8 L1574.1,1953.0 L1582.8,1956.2 L1590.2,1961.9 M1198.6,1960.0 L1208.4,1968.6 L1220.8,1976.0 L1215.8,1980.9 L1208.4,1984.6 L1209.7,1997.0 L1203.5,2000.7 L1194.9,2003.1 L1192.4,2009.3 L1187.5,2015.5 L1186.3,2025.3 L1178.9,2032.7 L1172.7,2037.6 L1166.5,2040.1 L1165.3,2048.7 L1166.5,2057.4 L1162.8,2063.5 L1165.3,2073.4 L1170.2,2078.3 L1172.7,2085.7 L1181.3,2089.4 L1187.5,2094.3 L1193.7,2096.8 L1197.4,2105.4 L1201.0,2112.8 L1204.7,2115.8 L1209.7,2113.3 L1215.8,2110.3 L1222.0,2102.9 L1225.7,2093.1 L1228.2,2091.9 M1313.2,1966.2 L1309.5,1977.3 L1302.1,1987.1 L1294.7,1997.0 L1283.6,2005.6 L1283.6,2017.9 L1275.0,2022.8 L1267.6,2031.5 L1259.0,2041.3 L1250.3,2050.0 L1245.4,2058.6 L1244.2,2068.4 L1238.0,2077.1 L1233.1,2084.5 L1231.9,2093.1 M1228.2,2091.9 L1231.9,2093.1 L1238.0,2098.0 L1244.2,2100.5 L1247.9,2107.9 L1249.1,2114.0 L1255.3,2120.2 L1262.7,2130.1 L1265.1,2136.2 L1272.5,2141.9 L1281.1,2137.4 L1287.3,2130.1 L1284.8,2123.9 L1292.2,2117.7 L1302.1,2112.8 L1310.7,2107.9 L1313.2,2095.6 L1321.8,2088.2 L1331.7,2082.0 L1337.8,2075.8 L1342.8,2081.3 L1351.4,2077.8 L1358.8,2078.3 L1369.9,2081.3 M1209.7,2114.0 L1208.4,2121.4 L1203.5,2125.1 L1196.1,2128.8 L1188.7,2133.8 L1182.6,2139.9 L1176.4,2148.5 L1171.5,2153.5 L1164.1,2155.9 L1157.9,2159.6 L1153.0,2167.0 L1144.4,2172.0 L1140.7,2174.4 L1138.2,2185.5 L1127.1,2184.8 L1117.3,2186.2 L1109.9,2188.0 L1100.0,2190.4 M1100.1,2190.3 L1095.2,2192.2 L1089.0,2202.1 L1077.9,2204.6 L1070.5,2212.0 L1065.6,2216.9 L1053.3,2223.0 L1038.5,2234.1 L1028.6,2242.8 L1021.2,2241.5 L1008.9,2246.5 L994.1,2251.4 L984.3,2257.5 L978.1,2266.2 L972.0,2276.0 L964.6,2283.4 L952.2,2293.3 L941.1,2304.4 M1004.5,2430.6 L994.6,2426.9 L987.2,2418.3 L979.8,2403.5 L972.4,2394.9 L963.8,2393.7 L952.7,2385.0 L945.3,2378.9 L940.4,2369.0 L934.2,2362.8 L931.0,2332.0 L935.5,2322.2 L940.4,2313.6 L940.4,2304.9 L935.5,2303.7 L930.5,2309.9 L910.8,2318.5 L901.0,2314.8 L891.1,2316.0 L876.3,2318.5 L866.5,2327.1 L859.1,2333.3 L856.6,2341.9 L849.2,2350.5 L836.9,2354.2 L822.1,2359.1 L809.8,2359.6 M787.6,2330.1 L797.4,2331.5 L804.8,2337.0 L811.0,2344.4 L811.0,2353.0 L809.8,2359.6 L802.4,2365.3 L797.4,2373.9 L795.5,2386.3 L795.0,2406.0 L802.4,2420.8 L804.8,2435.6 L811.0,2439.2 L809.8,2452.8 L815.9,2462.7 L819.6,2473.8 L832.0,2477.0 L841.8,2473.8 L852.9,2472.0 L860.3,2481.1 L868.9,2491.0 L876.3,2494.7 L882.5,2491.0 L888.6,2482.4 L894.8,2477.9 L903.4,2483.6 L912.1,2493.5 L908.4,2500.9 L903.4,2514.4 L897.3,2526.7 L897.3,2539.1 L903.4,2551.4 L908.4,2561.2 L909.6,2569.9 L915.7,2581.0 L923.1,2595.7 L924.4,2613.0 L928.1,2625.3 L931.8,2635.2 L931.0,2645.0 L931.8,2653.7 M1000.0,2429.4 L1012.3,2429.4 L1022.2,2431.9 L1024.6,2447.9 L1029.6,2460.2 L1039.4,2455.3 L1046.8,2445.4 L1054.2,2434.3 L1061.6,2431.1 L1073.9,2430.6 L1088.7,2435.6 L1106.5,2442.5 M1167.6,1919.7 L1170.1,1927.1 L1177.4,1938.2 L1181.1,1945.6 L1179.4,1954.2 L1183.6,1955.5 L1194.7,1954.2 L1198.6,1959.9 M1371.2,1346.5 L1377.8,1340.6 L1385.7,1334.9" fill="none" stroke="#fff" stroke-width="2.2" stroke-linejoin="round" stroke-linecap="round"/>
</svg>
<header>
<svg id="logo" width="2480" height="420" viewBox="0 0 2480 420" aria-hidden="true">
<path d="M281.9,241.8 H348.2 V320 A28.2,28.2 0 0 1 320,348.2 H241.8 V306.3" fill="none" stroke="#0099ff" stroke-width="11.6"/>
<path d="M241.8,297.4 V237" fill="none" stroke="#0300a0" stroke-width="11.6"/>
<path d="M241.8,276 V273 A31.2,31.2 0 0 1 273,241.8" fill="none" stroke="#0300a0" stroke-width="11.6"/>
<path d="M261.3,297.4 A34,34 0 1 1 329.1,297.4 Z M274.1,286.9 A22.6,22.6 0 0 1 316.3,286.9 Z" fill="#0300a0" fill-rule="evenodd"/>
<path d="M263.1,306.3 A34,34 0 0 0 324.8,311.8 L314.9,306.2 A22.6,22.6 0 0 1 275.6,306.3 Z" fill="#0300a0"/>
</svg>
<div class="brand"><span class="t" style="left:376.9px;top:241.5px;font-size:93px;font-weight:700;transform:scaleX(1.0531)">realestate</span><span class="t" style="left:831.6px;top:272.1px;font-size:56px;font-weight:700;color:#0099ff;-webkit-text-stroke:0.8px #0099ff;letter-spacing:0.48px;transform:scaleX(1.1079)">.co.nz</span></div>
<h1><span class="w"><span class="t" style="left:239.3px;top:444.1px;font-size:147px;font-weight:700;-webkit-text-stroke:3.8px #0300a0;letter-spacing:2.28px;transform:scaleX(0.8578)">T</span><span class="t" style="left:311.4px;top:444.1px;font-size:147px;font-weight:700;-webkit-text-stroke:3.8px #0300a0;letter-spacing:2.28px;transform:scaleX(0.9397)">o</span><span class="t" style="left:397.8px;top:444.1px;font-size:147px;font-weight:700;-webkit-text-stroke:3.8px #0300a0;letter-spacing:2.28px;transform:scaleX(1.1644)">t</span><span class="t" style="left:462.7px;top:444.1px;font-size:147px;font-weight:700;-webkit-text-stroke:3.8px #0300a0;letter-spacing:2.28px;transform:scaleX(0.9510)">a</span><span class="t" style="left:552.6px;top:444.1px;font-size:147px;font-weight:700;-webkit-text-stroke:3.8px #0300a0;letter-spacing:2.28px;transform:scaleX(0.9242)">l</span></span> <span class="w"><span class="t" style="left:236.8px;top:615.1px;font-size:147px;font-weight:700;-webkit-text-stroke:3.8px #0300a0;letter-spacing:2.28px;transform:scaleX(0.9786)">h</span><span class="t" style="left:326.9px;top:615.1px;font-size:147px;font-weight:700;-webkit-text-stroke:3.8px #0300a0;letter-spacing:2.28px;transform:scaleX(0.9397)">o</span><span class="t" style="left:414.1px;top:615.1px;font-size:147px;font-weight:700;-webkit-text-stroke:3.8px #0300a0;letter-spacing:2.28px;transform:scaleX(0.9364)">u</span><span class="t" style="left:501.4px;top:615.1px;font-size:147px;font-weight:700;-webkit-text-stroke:3.8px #0300a0;letter-spacing:2.28px;transform:scaleX(0.8105)">s</span><span class="t" style="left:564.6px;top:615.1px;font-size:147px;font-weight:700;-webkit-text-stroke:3.8px #0300a0;letter-spacing:2.28px;transform:scaleX(1.1329)">i</span><span class="t" style="left:609.5px;top:615.1px;font-size:147px;font-weight:700;-webkit-text-stroke:3.8px #0300a0;letter-spacing:2.28px;transform:scaleX(0.9559)">n</span><span class="t" style="left:696.5px;top:615.1px;font-size:147px;font-weight:700;-webkit-text-stroke:3.8px #0300a0;letter-spacing:2.28px;transform:scaleX(1.0074)">g</span></span> <span class="w"><span class="t" style="left:236.7px;top:786.3px;font-size:147px;font-weight:700;-webkit-text-stroke:3.8px #0300a0;letter-spacing:2.28px;transform:scaleX(0.8056)">s</span><span class="t" style="left:307.9px;top:786.3px;font-size:147px;font-weight:700;-webkit-text-stroke:3.8px #0300a0;letter-spacing:2.28px;transform:scaleX(1.1425)">t</span><span class="t" style="left:369.4px;top:786.3px;font-size:147px;font-weight:700;-webkit-text-stroke:3.8px #0300a0;letter-spacing:2.28px;transform:scaleX(0.9529)">o</span><span class="t" style="left:458.0px;top:786.3px;font-size:147px;font-weight:700;-webkit-text-stroke:3.8px #0300a0;letter-spacing:2.28px;transform:scaleX(0.9916)">c</span><span class="t" style="left:538.9px;top:786.3px;font-size:147px;font-weight:700;-webkit-text-stroke:3.8px #0300a0;letter-spacing:2.28px;transform:scaleX(1.0242)">k</span></span></h1>
<dl class="stats"><dt class="t" style="left:1294.4px;top:449.5px;font-size:47px;font-weight:400;-webkit-text-stroke:0.56px #fff;transform:scaleX(1.0365)">Housing stock in November 2024</dt><dd class="t" style="left:1297.7px;top:519.6px;font-size:75px;font-weight:700;color:#0099ff;-webkit-text-stroke:1.9px #0099ff;letter-spacing:1.14px;transform:scaleX(1.0208)">33,984</dd><dt class="t" style="left:1295.4px;top:635.8px;font-size:47px;font-weight:400;-webkit-text-stroke:0.56px #fff;transform:scaleX(1.0516)">Compared to November 2023</dt><dd class="t" style="left:1296.8px;top:704.1px;font-size:75px;font-weight:700;color:#0099ff;-webkit-text-stroke:1.9px #0099ff;letter-spacing:1.14px;transform:scaleX(0.9711)">21.3%</dd></dl>
</header>
<main>
<article class="card" style="left:236px;top:1013.6px;width:409px;height:174.8px"><h3 class="t" style="left:123.6px;top:18.0px;font-size:39px;font-weight:400;-webkit-text-stroke:0.47px #e6fff9;transform:scaleX(1.0805)">Northland</h3><p class="t" style="left:147.1px;top:61.8px;font-size:45px;font-weight:700;-webkit-text-stroke:1.2px #0300a0;letter-spacing:0.72px;transform:scaleX(0.9426)">1,583</p><p class="t" style="left:140.3px;top:111.8px;font-size:45px;font-weight:700;-webkit-text-stroke:1.2px #0300a0;letter-spacing:0.72px;transform:scaleX(1.0419)">8.4%</p><i class="up" style="left:293.0px;top:111.1px;width:59.3px;height:38.3px"></i></article>
<article class="card" style="left:236px;top:1211.5px;width:409px;height:177.3px"><h3 class="t" style="left:130.3px;top:18.0px;font-size:39px;font-weight:400;-webkit-text-stroke:0.47px #e6fff9;transform:scaleX(1.0619)">Auckland</h3><p class="t" style="left:138.1px;top:61.8px;font-size:45px;font-weight:700;-webkit-text-stroke:1.2px #0300a0;letter-spacing:0.72px;transform:scaleX(0.8983)">12,314</p><p class="t" style="left:135.8px;top:111.8px;font-size:45px;font-weight:700;-webkit-text-stroke:1.2px #0300a0;letter-spacing:0.72px;transform:scaleX(0.9186)">19.3%</p><i class="up" style="left:293.0px;top:111.2px;width:59.3px;height:37.9px"></i></article>
<article class="card" style="left:236px;top:1408.8px;width:409px;height:174.2px"><h3 class="t" style="left:143.0px;top:18.0px;font-size:39px;font-weight:400;-webkit-text-stroke:0.47px #e6fff9;transform:scaleX(1.0413)">Waikato</h3><p class="t" style="left:144.6px;top:61.8px;font-size:45px;font-weight:700;-webkit-text-stroke:1.2px #0300a0;letter-spacing:0.72px;transform:scaleX(0.9924)">2,724</p><p class="t" style="left:134.4px;top:111.8px;font-size:45px;font-weight:700;-webkit-text-stroke:1.2px #0300a0;letter-spacing:0.72px;transform:scaleX(0.9032)">17.3%</p><i class="up" style="left:293.0px;top:111.4px;width:59.3px;height:38.3px"></i></article>
<article class="card" style="left:236px;top:1605.5px;width:409px;height:174.5px"><h3 class="t" style="left:52.1px;top:23.0px;font-size:33.5px;font-weight:400;-webkit-text-stroke:0.4px #e6fff9;transform:scaleX(1.0957)">Central North Island</h3><p class="t" style="left:165.8px;top:61.8px;font-size:45px;font-weight:700;-webkit-text-stroke:1.2px #0300a0;letter-spacing:0.72px;transform:scaleX(0.9885)">707</p><p class="t" style="left:133.5px;top:111.8px;font-size:45px;font-weight:700;-webkit-text-stroke:1.2px #0300a0;letter-spacing:0.72px;transform:scaleX(0.9274)">19.0%</p><i class="up" style="left:293.0px;top:108.9px;width:59.3px;height:37.7px"></i></article>
<article class="card" style="left:236px;top:1801.5px;width:409px;height:175.0px"><h3 class="t" style="left:138.2px;top:18.0px;font-size:39px;font-weight:400;-webkit-text-stroke:0.47px #e6fff9;transform:scaleX(1.0535)">Taranaki</h3><p class="t" style="left:170.7px;top:61.8px;font-size:45px;font-weight:700;-webkit-text-stroke:1.2px #0300a0;letter-spacing:0.72px;transform:scaleX(0.8425)">721</p><p class="t" style="left:130.0px;top:111.8px;font-size:45px;font-weight:700;-webkit-text-stroke:1.2px #0300a0;letter-spacing:0.72px;transform:scaleX(0.9693)">14.3%</p><i class="up" style="left:284.5px;top:112.6px;width:59.3px;height:38.0px"></i></article>
<article class="card" style="left:236px;top:1998.8px;width:409px;height:174.7px"><h3 class="t" style="left:87.1px;top:18.0px;font-size:39px;font-weight:400;-webkit-text-stroke:0.47px #e6fff9;transform:scaleX(0.9983)">Nelson &amp; Bays</h3><p class="t" style="left:165.9px;top:61.8px;font-size:45px;font-weight:700;-webkit-text-stroke:1.2px #0300a0;letter-spacing:0.72px;transform:scaleX(0.9623)">663</p><p class="t" style="left:144.6px;top:111.8px;font-size:45px;font-weight:700;-webkit-text-stroke:1.2px #0300a0;letter-spacing:0.72px;transform:scaleX(0.9464)">7.6%</p><i class="up" style="left:284.5px;top:115.7px;width:59.3px;height:37.4px"></i></article>
<article class="card dk" style="left:236px;top:2196.1px;width:409px;height:174.4px"><h3 class="t" style="left:114.1px;top:18.0px;font-size:39px;font-weight:400;-webkit-text-stroke:0.47px #bbfdef;transform:scaleX(1.0105)">West Coast</h3><p class="t" style="left:165.0px;top:61.8px;font-size:45px;font-weight:700;-webkit-text-stroke:1.2px #0300a0;letter-spacing:0.72px;transform:scaleX(0.9923)">333</p><p class="t" style="left:131.8px;top:111.8px;font-size:45px;font-weight:700;-webkit-text-stroke:1.2px #0300a0;letter-spacing:0.72px;transform:scaleX(0.9596)">21.0%</p><i class="up" style="left:284.5px;top:110.3px;width:59.3px;height:37.7px"></i></article>
<article class="card dk" style="left:236px;top:2392.7px;width:409px;height:174.1px"><h3 class="t" style="left:64.8px;top:27.0px;font-size:28.5px;font-weight:400;-webkit-text-stroke:0.34px #bbfdef;transform:scaleX(1.1509)">Central Otago/Lakes</h3><p class="t" style="left:165.0px;top:61.8px;font-size:45px;font-weight:700;-webkit-text-stroke:1.2px #0300a0;letter-spacing:0.72px;transform:scaleX(0.9923)">945</p><p class="t" style="left:127.2px;top:111.8px;font-size:45px;font-weight:700;-webkit-text-stroke:1.2px #0300a0;letter-spacing:0.72px;transform:scaleX(1.0303)">40.9%</p><i class="up" style="left:284.5px;top:113.4px;width:59.3px;height:37.4px"></i></article>
<article class="card dk" style="left:236px;top:2589.7px;width:407px;height:174.4px"><h3 class="t" style="left:157.5px;top:18.0px;font-size:39px;font-weight:400;-webkit-text-stroke:0.47px #bbfdef;transform:scaleX(1.0920)">Otago</h3><p class="t" style="left:147.1px;top:61.8px;font-size:45px;font-weight:700;-webkit-text-stroke:1.2px #0300a0;letter-spacing:0.72px;transform:scaleX(0.9525)">1,060</p><p class="t" style="left:131.9px;top:111.8px;font-size:45px;font-weight:700;-webkit-text-stroke:1.2px #0300a0;letter-spacing:0.72px;transform:scaleX(0.9224)">36.1%</p><i class="up" style="left:284.5px;top:108.3px;width:59.3px;height:37.6px"></i></article>
<article class="card" style="left:236px;top:2786.7px;width:409px;height:174.1px"><h3 class="t" style="left:124.4px;top:18.0px;font-size:39px;font-weight:400;-webkit-text-stroke:0.47px #e6fff9;transform:scaleX(1.0319)">Southland</h3><p class="t" style="left:165.0px;top:61.8px;font-size:45px;font-weight:700;-webkit-text-stroke:1.2px #0300a0;letter-spacing:0.72px;transform:scaleX(0.9923)">606</p><p class="t" style="left:130.9px;top:111.8px;font-size:45px;font-weight:700;-webkit-text-stroke:1.2px #0300a0;letter-spacing:0.72px;transform:scaleX(0.9582)">13.8%</p><i class="up" style="left:284.5px;top:113.3px;width:59.3px;height:37.7px"></i></article>
<article class="card dk" style="left:1837px;top:1010.7px;width:409px;height:177.3px"><h3 class="t" style="left:104.3px;top:18.0px;font-size:39px;font-weight:400;-webkit-text-stroke:0.47px #bbfdef;transform:scaleX(1.0548)">Coromandel</h3><p class="t" style="left:165.3px;top:61.8px;font-size:45px;font-weight:700;-webkit-text-stroke:1.2px #0300a0;letter-spacing:0.72px;transform:scaleX(0.9735)">723</p><p class="t" style="left:130.7px;top:111.8px;font-size:45px;font-weight:700;-webkit-text-stroke:1.2px #0300a0;letter-spacing:0.72px;transform:scaleX(1.0208)">30.9%</p><i class="up" style="left:282.4px;top:110.5px;width:58.4px;height:38.0px"></i></article>
<article class="card" style="left:1837px;top:1203.2px;width:409px;height:176.9px"><h3 class="t" style="left:98.6px;top:18.0px;font-size:39px;font-weight:400;-webkit-text-stroke:0.47px #e6fff9;transform:scaleX(1.0121)">Bay of Plenty</h3><p class="t" style="left:146.3px;top:61.8px;font-size:45px;font-weight:700;-webkit-text-stroke:1.2px #0300a0;letter-spacing:0.72px;transform:scaleX(0.9887)">2,226</p><p class="t" style="left:134.0px;top:111.8px;font-size:45px;font-weight:700;-webkit-text-stroke:1.2px #0300a0;letter-spacing:0.72px;transform:scaleX(0.9186)">17.4%</p><i class="up" style="left:282.4px;top:111.9px;width:58.4px;height:37.7px"></i></article>
<article class="card dk" style="left:1837px;top:1641.5px;width:409px;height:174.8px"><h3 class="t" style="left:135.2px;top:18.0px;font-size:39px;font-weight:400;-webkit-text-stroke:0.47px #bbfdef;transform:scaleX(1.0198)">Gisborne</h3><p class="t" style="left:170.1px;top:61.8px;font-size:45px;font-weight:700;-webkit-text-stroke:1.2px #0300a0;letter-spacing:0.72px;transform:scaleX(0.8614)">122</p><p class="t" style="left:128.4px;top:111.8px;font-size:45px;font-weight:700;-webkit-text-stroke:1.2px #0300a0;letter-spacing:0.72px;transform:scaleX(0.9946)">26.5%</p><i class="up" style="left:282.4px;top:112.6px;width:58.4px;height:37.4px"></i></article>
<article class="card dk" style="left:1837px;top:1833.2px;width:409px;height:174.1px"><h3 class="t" style="left:102.3px;top:18.0px;font-size:39px;font-weight:400;-webkit-text-stroke:0.47px #bbfdef;transform:scaleX(0.9996)">Hawke’s Bay</h3><p class="t" style="left:166.1px;top:61.8px;font-size:45px;font-weight:700;-webkit-text-stroke:1.2px #0300a0;letter-spacing:0.72px;transform:scaleX(0.9735)">893</p><p class="t" style="left:129.8px;top:111.8px;font-size:45px;font-weight:700;-webkit-text-stroke:1.2px #0300a0;letter-spacing:0.72px;transform:scaleX(0.9618)">27.2%</p><i class="up" style="left:282.4px;top:108.5px;width:58.4px;height:37.7px"></i></article>
<article class="card" style="left:1837px;top:2024.8px;width:409px;height:173.8px"><h3 class="t" style="left:50.6px;top:27.0px;font-size:28.5px;font-weight:400;-webkit-text-stroke:0.34px #e6fff9;transform:scaleX(1.1664)">Manawatu/Whanganui</h3><p class="t" style="left:147.3px;top:61.8px;font-size:45px;font-weight:700;-webkit-text-stroke:1.2px #0300a0;letter-spacing:0.72px;transform:scaleX(0.9476)">1,435</p><p class="t" style="left:130.9px;top:111.8px;font-size:45px;font-weight:700;-webkit-text-stroke:1.2px #0300a0;letter-spacing:0.72px;transform:scaleX(0.9318)">19.4%</p><i class="up" style="left:282.4px;top:110.5px;width:58.4px;height:37.4px"></i></article>
<article class="card dk" style="left:1837px;top:2214.9px;width:409px;height:174.8px"><h3 class="t" style="left:122.0px;top:18.0px;font-size:39px;font-weight:400;-webkit-text-stroke:0.47px #bbfdef;transform:scaleX(1.0460)">Wairarapa</h3><p class="t" style="left:163.4px;top:61.8px;font-size:45px;font-weight:700;-webkit-text-stroke:1.2px #0300a0;letter-spacing:0.72px;transform:scaleX(1.0348)">450</p><p class="t" style="left:128.4px;top:111.8px;font-size:45px;font-weight:700;-webkit-text-stroke:1.2px #0300a0;letter-spacing:0.72px;transform:scaleX(0.9946)">28.6%</p><i class="up" style="left:282.4px;top:112.0px;width:58.4px;height:38.0px"></i></article>
<article class="card dk" style="left:1837px;top:2406.3px;width:409px;height:174.7px"><h3 class="t" style="left:122.0px;top:18.0px;font-size:39px;font-weight:400;-webkit-text-stroke:0.47px #bbfdef;transform:scaleX(1.0374)">Wellington</h3><p class="t" style="left:149.4px;top:61.8px;font-size:45px;font-weight:700;-webkit-text-stroke:1.2px #0300a0;letter-spacing:0.72px;transform:scaleX(0.9052)">1,878</p><p class="t" style="left:127.0px;top:111.8px;font-size:45px;font-weight:700;-webkit-text-stroke:1.2px #0300a0;letter-spacing:0.72px;transform:scaleX(1.0099)">35.2%</p><i class="up" style="left:282.4px;top:108.2px;width:58.4px;height:37.7px"></i></article>
<article class="card dk" style="left:1837px;top:2597.3px;width:409px;height:174.2px"><h3 class="t" style="left:99.0px;top:18.0px;font-size:39px;font-weight:400;-webkit-text-stroke:0.47px #bbfdef;transform:scaleX(1.0645)">Marlborough</h3><p class="t" style="left:165.4px;top:61.8px;font-size:45px;font-weight:700;-webkit-text-stroke:1.2px #0300a0;letter-spacing:0.72px;transform:scaleX(0.9904)">492</p><p class="t" style="left:128.4px;top:111.8px;font-size:45px;font-weight:700;-webkit-text-stroke:1.2px #0300a0;letter-spacing:0.72px;transform:scaleX(0.9946)">29.4%</p><i class="up" style="left:282.4px;top:108.6px;width:58.4px;height:37.7px"></i></article>
<article class="card dk" style="left:1837px;top:2788.3px;width:409px;height:174.5px"><h3 class="t" style="left:113.3px;top:18.0px;font-size:39px;font-weight:400;-webkit-text-stroke:0.47px #bbfdef;transform:scaleX(1.0587)">Canterbury</h3><p class="t" style="left:159.0px;top:61.8px;font-size:45px;font-weight:700;-webkit-text-stroke:1.2px #0300a0;letter-spacing:0.72px;transform:scaleX(0.7937)">4,111</p><p class="t" style="left:128.4px;top:111.8px;font-size:45px;font-weight:700;-webkit-text-stroke:1.2px #0300a0;letter-spacing:0.72px;transform:scaleX(0.9946)">26.7%</p><i class="up" style="left:282.4px;top:111.2px;width:58.4px;height:37.9px"></i></article>
</main>
<svg id="leaders" width="2480" height="3508" viewBox="0 0 2480 3508" aria-hidden="true"><g fill="none" stroke="#57fdd7" stroke-width="4" stroke-linejoin="miter">
<path d="M645.0,1105.0 L819.3,1105.0 L1295.3,1237.1"/><circle cx="1295.3" cy="1237.1" r="2"/>
<path d="M645.0,1301.0 L823.5,1301.0 L1388.4,1403.8"/><circle cx="1388.4" cy="1403.8" r="2"/>
<path d="M645.0,1497.0 L827.2,1497.0 L1478.3,1586.8"/><circle cx="1478.3" cy="1586.8" r="2"/>
<path d="M645.0,1690.8 L851.8,1690.8 L1538.4,1695.0"/><circle cx="1538.4" cy="1695.0" r="2"/>
<path d="M645.0,1886.9 L840.7,1886.9 L1369.7,1762.0"/><circle cx="1369.7" cy="1762.0" r="2"/>
<path d="M645.0,2078.6 L863.0,2078.6 L1238.0,1994.9"/><circle cx="1238.0" cy="1994.9" r="2"/>
<path d="M645.0,2282.2 L825.2,2282.2 L1087.5,2153.4"/><circle cx="1087.5" cy="2153.4" r="2"/>
<path d="M645.0,2480.3 L764.2,2479.5 L923.9,2411.2"/><circle cx="923.9" cy="2411.2" r="2"/>
<path d="M643.0,2676.3 L712.3,2676.3 L937.8,2520.5"/><circle cx="937.8" cy="2520.5" r="2"/>
<path d="M645.0,2875.0 L712.1,2875.5 L862.4,2595.4"/><circle cx="862.4" cy="2595.4" r="2"/>
<path d="M1837.0,1098.7 L1784.1,1098.7 L1502.7,1460.1"/><circle cx="1502.7" cy="1460.1" r="2"/>
<path d="M1837.0,1287.5 L1791.9,1287.5 L1594.2,1582.6"/><circle cx="1594.2" cy="1582.6" r="2"/>
<path d="M1837.0,1728.4 L1809.3,1728.6 L1749.8,1670.0"/><circle cx="1749.8" cy="1670.0" r="2"/>
<path d="M1837.0,1914.6 L1784.1,1914.6 L1623.4,1799.7"/><circle cx="1623.4" cy="1799.7" r="2"/>
<path d="M1837.0,2114.8 L1724.5,2114.8 L1575.4,1891.4"/><circle cx="1575.4" cy="1891.4" r="2"/>
<path d="M1837.0,2303.2 L1766.2,2303.2 L1537.7,1932.8"/><circle cx="1537.7" cy="1932.8" r="2"/>
<path d="M1837.0,2487.0 L1759.5,2487.7 L1462.5,2003.6"/><circle cx="1462.5" cy="2003.6" r="2"/>
<path d="M1837.0,2681.5 L1724.5,2681.5 L1350.1,2043.4"/><circle cx="1350.1" cy="2043.4" r="2"/>
<path d="M1837.0,2867.7 L1456.3,2867.7 L1124.6,2294.2"/><circle cx="1124.6" cy="2294.2" r="2"/>
</g></svg>
<section class="legend"><h2 class="t" style="left:427.0px;top:3031.7px;font-size:45.5px;font-weight:700;-webkit-text-stroke:1.2px #0300a0;letter-spacing:0.72px;transform:scaleX(0.9700)">Listing change</h2><span class="t" style="left:292.9px;top:3092.0px;font-size:45px;font-weight:400;-webkit-text-stroke:0.54px #fff;transform:scaleX(1.0451)">Decrease</span><span class="t" style="left:710.7px;top:3092.0px;font-size:45px;font-weight:400;-webkit-text-stroke:0.54px #fff;transform:scaleX(1.0597)">Increase</span><i class="arr l"></i><span class="pill" style="left:296.3px;width:113.3px;background:#99d6ff"></span><span class="t" style="left:306.3px;top:3174.6px;font-size:33px;font-weight:400;-webkit-text-stroke:0.4px #99d6ff;transform:scaleX(1.0584)">› 20%</span><span class="pill" style="left:417.1px;width:113.4px;background:#d9f0ff"></span><span class="t" style="left:429.4px;top:3174.6px;font-size:33px;font-weight:400;-webkit-text-stroke:0.4px #d9f0ff;transform:scaleX(1.0644)">‹ 20%</span><span class="pill" style="left:538.0px;width:113.3px;background:#e6e6e6"></span><span class="t" style="left:586.3px;top:3174.6px;font-size:33px;font-weight:400;-webkit-text-stroke:0.4px #e6e6e6;transform:scaleX(1.0723)">0</span><span class="pill" style="left:658.8px;width:112.8px;background:#e6fff9"></span><span class="t" style="left:668.2px;top:3174.6px;font-size:33px;font-weight:400;-webkit-text-stroke:0.4px #e6fff9;transform:scaleX(1.0703)">‹ 20%</span><span class="pill" style="left:779.6px;width:113.3px;background:#bbfdef"></span><span class="t" style="left:795.6px;top:3174.6px;font-size:33px;font-weight:400;-webkit-text-stroke:0.4px #bbfdef;transform:scaleX(1.0758)">›20%</span><i class="arr r"></i></section>
<footer><p><span class="t" style="left:1295.8px;top:3035.8px;font-size:38.5px;font-weight:400;-webkit-text-stroke:0.46px #fff;transform:scaleX(1.0376)">The stock map shows the total number of residential</span><span class="t" style="left:1294.7px;top:3086.0px;font-size:38.5px;font-weight:400;-webkit-text-stroke:0.46px #fff;transform:scaleX(1.0516)">dwellings that are for sale on the penultimate day of</span><span class="t" style="left:1295.8px;top:3135.9px;font-size:38.5px;font-weight:400;-webkit-text-stroke:0.46px #fff;transform:scaleX(1.0567)">the month.</span></p><small><span class="t" style="left:1295.7px;top:3202.6px;font-size:29px;font-weight:400;color:#757575;-webkit-text-stroke:0.35px #fff;transform:scaleX(1.1044)">Stock data adjusted for multiple listings.</span></small></footer>
</div></body></html>
